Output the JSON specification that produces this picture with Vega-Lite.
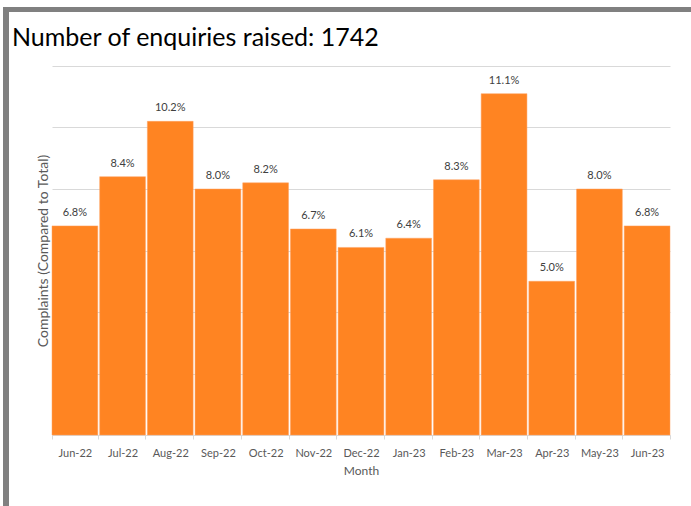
{
  "$schema": "https://vega.github.io/schema/vega-lite/v6.json",
  "autosize": {"type": "pad"},
  "padding": {"left": 3, "top": 7, "right": 0, "bottom": 0},
  "background": "white",
  "bounds": "flush",
  "spacing": 0,
  "config": {
    "view": {"stroke": null},
    "font": "Lato"
  },
  "datasets": {
    "none": [],
    "enquiries": [
      {"month": "Jun-22", "pct": 0.068},
      {"month": "Jul-22", "pct": 0.084},
      {"month": "Aug-22", "pct": 0.102},
      {"month": "Sep-22", "pct": 0.080},
      {"month": "Oct-22", "pct": 0.082},
      {"month": "Nov-22", "pct": 0.067},
      {"month": "Dec-22", "pct": 0.061},
      {"month": "Jan-23", "pct": 0.064},
      {"month": "Feb-23", "pct": 0.083},
      {"month": "Mar-23", "pct": 0.111},
      {"month": "Apr-23", "pct": 0.050},
      {"month": "May-23", "pct": 0.080},
      {"month": "Jun-23", "pct": 0.068}
    ]
  },
  "vconcat": [
    {
      "width": 688,
      "height": 5,
      "view": {"fill": "#808080", "stroke": null},
      "data": {"name": "none"},
      "mark": "rect",
      "encoding": {}
    },
    {
      "hconcat": [
        {
          "width": 6,
          "height": 494,
          "view": {"fill": "#808080", "stroke": null},
          "data": {"name": "none"},
          "mark": "rect",
          "encoding": {}
        },
        {
          "vconcat": [
            {
              "width": 618,
              "height": 54,
              "data": {"name": "none"},
              "mark": "rect",
              "encoding": {}
            },
            {
              "width": 618,
              "height": 369,
              "title": {
                "text": "Number of enquiries raised: 1742",
                "anchor": "start",
                "frame": "group",
                "dx": -40,
                "offset": -5,
                "baseline": "alphabetic",
                "font": "Lato",
                "fontSize": 25,
                "fontWeight": "normal",
                "color": "#000000"
              },
              "data": {"name": "enquiries"},
              "encoding": {
                "x": {
                  "field": "month",
                  "type": "nominal",
                  "sort": null,
                  "scale": {"paddingInner": 0.04, "paddingOuter": 0},
                  "axis": {
                    "title": "Month",
                    "titleFont": "Lato",
                    "titleFontSize": 12,
                    "titleFontWeight": "normal",
                    "titleColor": "#595959",
                    "titlePadding": 7,
                    "labelAngle": 0,
                    "labelFont": "Lato",
                    "labelFontSize": 11,
                    "labelColor": "#595959",
                    "labelPadding": 8,
                    "tickBand": "extent",
                    "tickColor": "#D9D9D9",
                    "tickSize": 4,
                    "domainColor": "#D9D9D9",
                    "domainWidth": 1
                  }
                },
                "y": {
                  "field": "pct",
                  "type": "quantitative",
                  "scale": {"domain": [0, 0.12], "nice": false},
                  "axis": {
                    "title": "Complaints (Compared to Total)",
                    "titleFont": "Lato",
                    "titleFontSize": 14,
                    "titleFontWeight": "normal",
                    "titleColor": "#595959",
                    "titlePadding": 2,
                    "values": [0, 0.02, 0.04, 0.06, 0.08, 0.10, 0.12],
                    "labels": false,
                    "ticks": false,
                    "domain": false,
                    "grid": true,
                    "gridColor": "#D9D9D9",
                    "gridWidth": 1
                  }
                }
              },
              "layer": [
                {
                  "mark": {"type": "bar", "color": "#FF8422", "stroke": "#FFA060", "strokeWidth": 0.5}
                },
                {
                  "mark": {"type": "text", "baseline": "alphabetic", "dy": -10, "font": "Lato", "fontSize": 11, "color": "#404040"},
                  "encoding": {
                    "text": {"field": "pct", "type": "quantitative", "format": ".1%"}
                  }
                }
              ]
            }
          ],
          "bounds": "flush",
          "spacing": 0
        }
      ],
      "bounds": "flush",
      "spacing": 43
    }
  ]
}
